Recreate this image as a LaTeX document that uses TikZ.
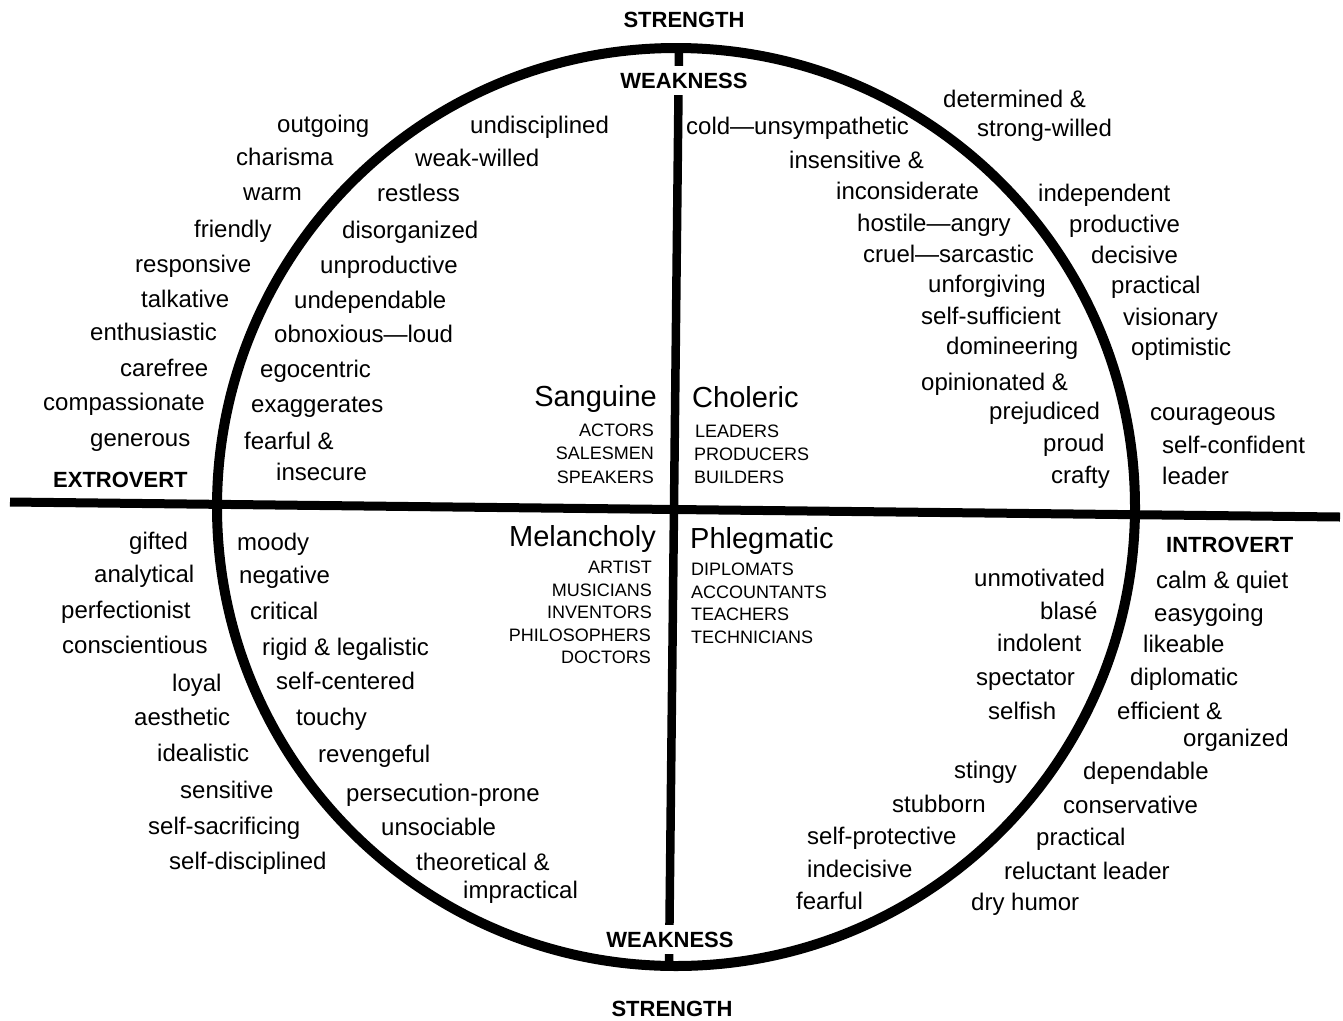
\documentclass[tikz,border=0pt]{standalone}
\usepackage{fontspec}
\setmainfont{Liberation Sans}
\newcommand\lw[4]{\node[wd] (#1) at (#2,#3+8) {#4};}
\newcommand\lc[4]{\node[cp] (#1) at (#2,#3+6.5) {#4};}
\newcommand\rc[4]{\node[cp,anchor=base east] (#1) at (#2,#3+6.5) {#4};}
\begin{document}
\begin{tikzpicture}[x=1pt,y=-1pt,
  wd/.style={font=\fontsize{24}{28}\selectfont, inner sep=0pt, anchor=base west},
  cp/.style={font=\fontsize{18}{21}\selectfont, inner sep=0pt, anchor=base west},
  hd/.style={font=\fontsize{29}{33}\selectfont, inner sep=0pt},
  bd/.style={font=\bfseries\fontsize{22}{26}\selectfont, inner sep=0pt, anchor=base},
  gap/.style={fill=white, inner xsep=2pt, inner ysep=7pt},
  ln/.style={line width=10pt, black}]
\useasboundingbox (0,0) rectangle (1343,1020);
% frame
\draw[ln] (676,507) circle[radius=459pt];
\coordinate (vt) at (679,45);
\coordinate (vb) at (669,968);
\coordinate (hl) at (10,502);
\coordinate (hr) at (1340,517);
\draw[ln,line width=8.5pt] (vt) -- (vb);
\draw[ln,line width=9pt] (hl) -- (hr);
% bold labels
\node[bd] (s1) at (684,27) {STRENGTH};
\node[bd,gap] (w1) at (684,88) {WEAKNESS};
\node[bd,gap] (w2) at (670,947) {WEAKNESS};
\node[bd] (s2) at (672,1016) {STRENGTH};
\node[bd,anchor=base west] (ext) at (53,487) {EXTROVERT};
\node[bd,anchor=base west] (int) at (1166,552) {INTROVERT};
% upper-left outer
\lw{a1}{277}{124}{outgoing}
\lw{a2}{236}{157}{charisma}
\lw{a3}{243}{192}{warm}
\lw{a4}{194}{229}{friendly}
\lw{a5}{135}{264}{responsive}
\lw{a6}{141}{299}{talkative}
\lw{a7}{90}{332}{enthusiastic}
\lw{a8}{120}{368}{carefree}
\lw{a9}{43}{402}{compassionate}
\lw{a10}{90}{438}{generous}
% upper-left inner
\lw{b1}{470}{125}{undisciplined}
\lw{b2}{415}{158}{weak-willed}
\lw{b3}{377}{193}{restless}
\lw{b4}{342}{230}{disorganized}
\lw{b5}{320}{265}{unproductive}
\lw{b6}{294}{300}{undependable}
\lw{b7}{274}{334}{obnoxious—loud}
\lw{b8}{260}{369}{egocentric}
\lw{b9}{251}{404}{exaggerates}
\lw{b10}{244}{441}{fearful \&}
\lw{b11}{276}{472}{insecure}
% Sanguine
\node[hd,anchor=base east] (san) at (657,406) {Sanguine};
\rc{sa1}{654}{430}{ACTORS}
\rc{sa2}{654}{453}{SALESMEN}
\rc{sa3}{654}{477}{SPEAKERS}
% Choleric
\node[hd,anchor=base west] (cho) at (692,407) {Choleric};
\lc{ch1}{695}{431}{LEADERS}
\lc{ch2}{694}{454}{PRODUCERS}
\lc{ch3}{694}{477}{BUILDERS}
% upper-right inner
\lw{c1}{686}{126}{cold—unsympathetic}
\lw{c2}{789}{160}{insensitive \&}
\lw{c3}{836}{191}{inconsiderate}
\lw{c4}{857}{223}{hostile—angry}
\lw{c5}{863}{254}{cruel—sarcastic}
\lw{c6}{928}{284}{unforgiving}
\lw{c7}{921}{316}{self-sufficient}
\lw{c8}{946}{346}{domineering}
\lw{c9}{921}{382}{opinionated \&}
\lw{c10}{989}{411}{prejudiced}
\lw{c11}{1043}{443}{proud}
\lw{c12}{1051}{475}{crafty}
% upper-right outer
\lw{d1}{943}{99}{determined \&}
\lw{d2}{977}{128}{strong-willed}
\lw{d3}{1038}{193}{independent}
\lw{d4}{1069}{224}{productive}
\lw{d5}{1091}{255}{decisive}
\lw{d6}{1111}{285}{practical}
\lw{d7}{1123}{317}{visionary}
\lw{d8}{1131}{347}{optimistic}
\lw{d9}{1150}{412}{courageous}
\lw{d10}{1162}{445}{self-confident}
\lw{d11}{1162}{476}{leader}
% lower-left outer
\lw{e1}{129}{541}{gifted}
\lw{e2}{94}{574}{analytical}
\lw{e3}{61}{610}{perfectionist}
\lw{e4}{62}{645}{conscientious}
\lw{e5}{172}{683}{loyal}
\lw{e6}{134}{717}{aesthetic}
\lw{e7}{157}{753}{idealistic}
\lw{e8}{180}{790}{sensitive}
\lw{e9}{148}{826}{self-sacrificing}
\lw{e10}{169}{861}{self-disciplined}
% lower-left inner
\lw{f1}{237}{542}{moody}
\lw{f2}{239}{575}{negative}
\lw{f3}{250}{611}{critical}
\lw{f4}{262}{647}{rigid \& legalistic}
\lw{f5}{276}{681}{self-centered}
\lw{f6}{296}{717}{touchy}
\lw{f7}{318}{754}{revengeful}
\lw{f8}{346}{793}{persecution-prone}
\lw{f9}{381}{827}{unsociable}
\lw{f10}{416}{862}{theoretical \&}
\lw{f11}{463}{890}{impractical}
% Melancholy
\node[hd,anchor=base east] (mel) at (656,546) {Melancholy};
\rc{me1}{652}{567}{ARTIST}
\rc{me2}{652}{590}{MUSICIANS}
\rc{me3}{652}{612}{INVENTORS}
\rc{me4}{651}{635}{PHILOSOPHERS}
\rc{me5}{651}{657}{DOCTORS}
% Phlegmatic
\node[hd,anchor=base west] (phl) at (690,548) {Phlegmatic};
\lc{ph1}{691}{569}{DIPLOMATS}
\lc{ph2}{691}{592}{ACCOUNTANTS}
\lc{ph3}{691}{614}{TEACHERS}
\lc{ph4}{691}{637}{TECHNICIANS}
% lower-right inner
\lw{g1}{974}{578}{unmotivated}
\lw{g2}{1040}{611}{blasé}
\lw{g3}{997}{643}{indolent}
\lw{g4}{976}{677}{spectator}
\lw{g5}{988}{711}{selfish}
\lw{g6}{954}{770}{stingy}
\lw{g7}{892}{804}{stubborn}
\lw{g8}{807}{836}{self-protective}
\lw{g9}{807}{869}{indecisive}
\lw{g10}{796}{901}{fearful}
% lower-right outer
\lw{h1}{1156}{580}{calm \& quiet}
\lw{h2}{1154}{613}{easygoing}
\lw{h3}{1143}{644}{likeable}
\lw{h4}{1130}{677}{diplomatic}
\lw{h5}{1117}{711}{efficient \&}
\lw{h6}{1183}{738}{organized}
\lw{h7}{1083}{771}{dependable}
\lw{h8}{1063}{805}{conservative}
\lw{h9}{1036}{837}{practical}
\lw{h10}{1004}{871}{reluctant leader}
\lw{h11}{971}{902}{dry humor}
\end{tikzpicture}
\end{document}
